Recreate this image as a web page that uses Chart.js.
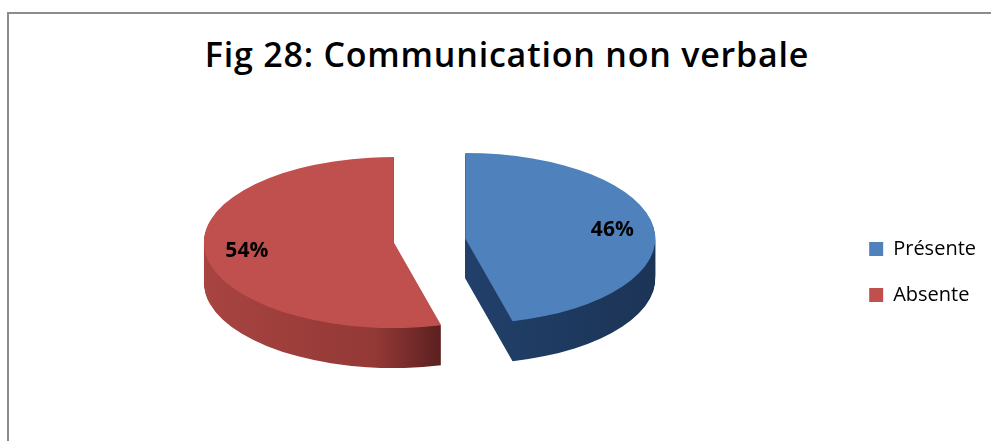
<!DOCTYPE html>
<html>
<head>
<meta charset="utf-8">
<script src="https://cdn.jsdelivr.net/npm/chart.js@4/dist/chart.umd.min.js"></script>
<style>
  html, body { margin: 0; padding: 0; background: #ffffff; }
  #wrap { position: relative; width: 991px; height: 441px; overflow: hidden; background: #fff; }
  #frame { position: absolute; left: 7px; top: 12px; width: 1100px; height: 600px;
           border-top: 2px solid #8c8c8c; border-left: 2px solid #8c8c8c; }
  #title { position: absolute; left: 0; width: 1014px; top: 38px; text-align: center;
           font-family: "Open Sans", sans-serif; font-weight: 600; font-size: 34px;
           letter-spacing: 0.8px; line-height: 33px; color: #000; white-space: nowrap; }
  canvas { position: absolute; left: 0; top: 0; }
</style>
</head>
<body>
<div id="wrap">
  <div id="frame"></div>
  <div id="title">Fig 28: Communication non verbale</div>
  <canvas id="c" width="991" height="441"></canvas>
</div>
<script>
// ---- data ----
const categories = ['Présente', 'Absente'];
const percentages = [46, 54];

// ---- styles ----
const topColors = ['#4f81bd', '#c0504d'];
const sideStops = [
  [[0, '#244270'], [0.5, '#21406a'], [1, '#1c3456']],
  [[0, '#a84441'], [0.45, '#933936'], [0.63, '#5a1f1f'], [1, '#5a1f1f']]
];
const tilt = 0.45;      // vertical squash of the pie (3D view)
const depth = 40;       // thickness of the pie, px
const explode = 36;     // explosion distance, px
const labelRadius = 0.78;

function placeArc(ctx, el, dy) {
  const mid = (el.startAngle + el.endAngle) / 2;
  ctx.translate(Math.cos(mid) * explode, Math.sin(mid) * explode * tilt + dy);
  ctx.translate(el.x, el.y);
  ctx.scale(1, tilt);
  ctx.translate(-el.x, -el.y);
}

const pie3d = {
  id: 'pie3d',
  beforeDatasetsDraw(chart) {
    const ctx = chart.ctx;
    const meta = chart.getDatasetMeta(0);
    meta.data.forEach((el, i) => {
      const r = el.outerRadius;
      const g = ctx.createLinearGradient(el.x - r, 0, el.x + r, 0);
      sideStops[i].forEach(s => g.addColorStop(s[0], s[1]));
      const side = Object.create(el, {
        options: { value: Object.assign({}, el.options, { backgroundColor: g, borderWidth: 0 }) }
      });
      for (let d = depth; d >= 1; d--) {
        ctx.save();
        placeArc(ctx, el, d);
        el.draw.call(side, ctx);
        ctx.restore();
      }
    });
    meta.data.forEach(el => {
      ctx.save();
      placeArc(ctx, el, 0);
      el.draw(ctx);
      ctx.restore();
    });
    return false;
  },
  afterDraw(chart) {
    const ctx = chart.ctx;
    const meta = chart.getDatasetMeta(0);
    ctx.save();
    ctx.font = 'bold 21px "Open Sans", sans-serif';
    ctx.fillStyle = '#000';
    ctx.textAlign = 'center';
    ctx.textBaseline = 'middle';
    meta.data.forEach((el, i) => {
      const mid = (el.startAngle + el.endAngle) / 2;
      const rr = explode + el.outerRadius * labelRadius;
      ctx.fillText(percentages[i] + '%', el.x + Math.cos(mid) * rr, el.y + Math.sin(mid) * rr * tilt);
    });
    ctx.restore();
  }
};

new Chart(document.getElementById('c'), {
  type: 'pie',
  data: {
    labels: categories,
    datasets: [{
      data: percentages,
      backgroundColor: topColors,
      borderWidth: 0,
      hoverOffset: 0
    }]
  },
  options: {
    responsive: false,
    animation: false,
    events: [],
    radius: 190,
    layout: { padding: { top: 40, bottom: 0, left: 16, right: 5 } },
    plugins: {
      tooltip: { enabled: false },
      title: { display: false },
      legend: {
        position: 'right',
        title: { display: true, text: '', font: { size: 1 }, padding: { top: 0, bottom: 62 } },
        labels: {
          boxWidth: 14,
          boxHeight: 14,
          padding: 26,
          color: '#000',
          font: { family: '"Open Sans", sans-serif', size: 20 }
        }
      }
    }
  },
  plugins: [pie3d]
});
</script>
</body>
</html>
